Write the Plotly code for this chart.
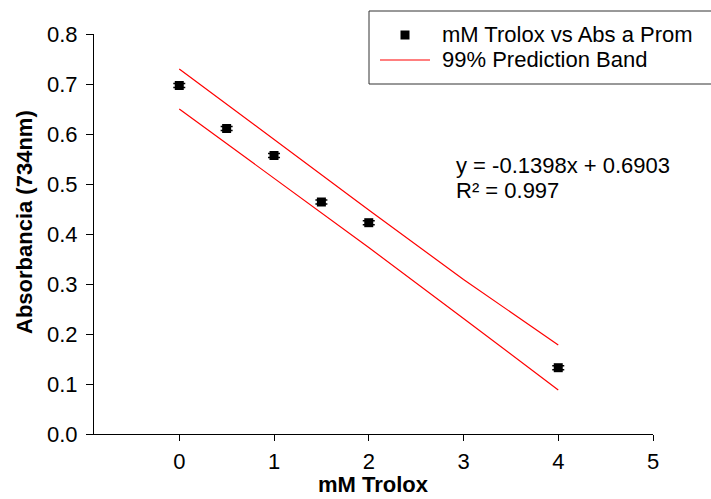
import plotly.graph_objects as go

# ---- data ----
trolox_mM = [0, 0.5, 1, 1.5, 2, 4]
abs_prom = [0.697, 0.611, 0.557, 0.464, 0.4226, 0.1326]
abs_err = [0.004, 0.004, 0.004, 0.004, 0.004, 0.004]

band_x = [0, 1, 2, 3, 4]
band_upper = [0.730, 0.589, 0.448, 0.309, 0.178]
band_lower = [0.650, 0.512, 0.373, 0.231, 0.088]

x_ticks = [0, 1, 2, 3, 4, 5]
y_ticks = [0.0, 0.1, 0.2, 0.3, 0.4, 0.5, 0.6, 0.7, 0.8]

x_title = "mM Trolox"
y_title = "Absorbancia (734nm)"
legend_labels = ["mM Trolox vs Abs a Prom", "99% Prediction Band"]
equation_lines = ["y = -0.1398x + 0.6903", "R² = 0.997"]

# ---- layout geometry (pixels) ----
W, H = 711, 499
ML, MR, MT, MB = 94, 58, 34, 65
PW, PH = W - ML - MR, H - MT - MB
FONT = "Liberation Sans, Arial, sans-serif"


def px(xp):
    return (xp - ML) / PW


def py(yp):
    return (H - MB - yp) / PH


fig = go.Figure()

fig.add_trace(go.Scatter(
    x=band_x, y=band_upper, mode="lines",
    line=dict(color="#ff0000", width=1.2), showlegend=False, hoverinfo="skip"))
fig.add_trace(go.Scatter(
    x=band_x, y=band_lower, mode="lines",
    line=dict(color="#ff0000", width=1.2), showlegend=False, hoverinfo="skip"))

fig.add_trace(go.Scatter(
    x=trolox_mM, y=abs_prom, mode="markers",
    marker=dict(symbol="square", size=9, color="black"),
    error_y=dict(type="data", array=abs_err, visible=True, color="black",
                 thickness=1.5, width=6),
    showlegend=False))

shapes = [
    # legend box
    dict(type="rect", xref="paper", yref="paper",
         x0=px(369), x1=px(740), y0=py(84), y1=py(11),
         line=dict(color="#333333", width=1), fillcolor="white", layer="below"),
    # legend marker
    dict(type="rect", xref="paper", yref="paper",
         x0=px(400.5), x1=px(409.5), y0=py(39.5), y1=py(30.5),
         line=dict(color="black", width=0), fillcolor="black"),
    # legend line
    dict(type="line", xref="paper", yref="paper",
         x0=px(380), x1=px(430), y0=py(60), y1=py(60),
         line=dict(color="#ff0000", width=1.2)),
]


def txt(text, x, y, xanchor="left", bold=False, angle=0):
    return dict(text=f"<b>{text}</b>" if bold else text, xref="paper", yref="paper",
                x=px(x), y=py(y), xanchor=xanchor, yanchor="middle", showarrow=False,
                textangle=angle, font=dict(family=FONT, size=22, color="black"))


annotations = [
    txt(legend_labels[0], 440, 35),
    txt(legend_labels[1], 440, 60),
    txt(equation_lines[0], 454, 166),
    txt(equation_lines[1], 454, 191),
    txt(x_title, 373, 484, xanchor="center", bold=True),
    txt(y_title, 24, 222, xanchor="center", bold=True, angle=-90),
]

fig.update_layout(
    width=W, height=H,
    margin=dict(l=ML, r=MR, t=MT, b=MB, autoexpand=False),
    paper_bgcolor="white", plot_bgcolor="white",
    font=dict(family=FONT, size=22, color="black"),
    shapes=shapes, annotations=annotations,
    xaxis=dict(
        range=[-0.9, 5], tickvals=x_ticks, ticktext=[str(v) for v in x_ticks],
        showgrid=False, zeroline=False, showline=True, linecolor="black", linewidth=1,
        ticks="outside", ticklen=6, tickcolor="black", ticklabelstandoff=2,
        tickfont=dict(family=FONT, size=22), automargin=False,
    ),
    yaxis=dict(
        range=[0, 0.8], tickvals=y_ticks, ticktext=[f"{v:.1f}" for v in y_ticks],
        showgrid=False, zeroline=False, showline=True, linecolor="black", linewidth=1,
        ticks="outside", ticklen=7, tickcolor="black", ticklabelstandoff=4,
        tickfont=dict(family=FONT, size=22), automargin=False,
    ),
)

fig.write_html("out.html", config={"displayModeBar": False},
               post_script="document.body.style.margin='0';")
